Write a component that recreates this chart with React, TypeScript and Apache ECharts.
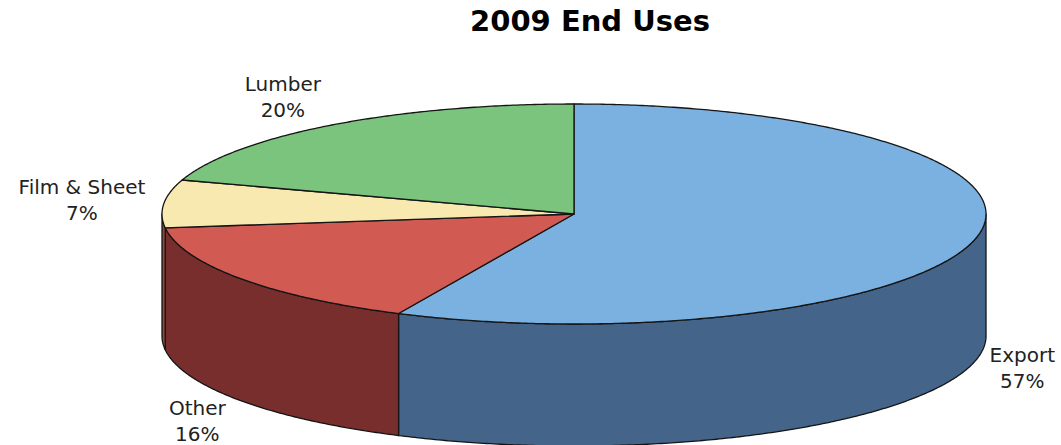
import React, { useEffect, useRef } from 'react';
import * as echarts from 'echarts';

// ---- data ----
const categories: string[] = ['Export', 'Other', 'Film & Sheet', 'Lumber'];
const shares: number[] = [57, 16, 7, 20];
const titleText = '2009 End Uses';

// ---- styles ----
const TOP_COLORS = ['#7bb1e0', '#d15a53', '#f8e9b1', '#7bc47e'];
const SIDE_COLORS = ['#44648a', '#782e2c', '#8a4a3c', '#4f8552'];
const STROKE = '#151515';
const FONT_FAMILY = '"DejaVu Sans", Verdana, sans-serif';
const FONT_SIZE = 20;
const LINE_H = 26;

// ---- layout ----
const W = 1061;
const CX = 574;
const CY = 214;
const RX = 412;
const RY = 110;
const DEPTH = 122;

function pt(theta: number, dy = 0): number[] {
  const r = (theta * Math.PI) / 180;
  return [CX + RX * Math.sin(r), CY - RY * Math.cos(r) + dy];
}

function arc(a: number, b: number, dy: number): number[][] {
  const pts: number[][] = [];
  const n = Math.max(2, Math.ceil(Math.abs(b - a) / 0.5));
  for (let i = 0; i <= n; i++) pts.push(pt(a + ((b - a) * i) / n, dy));
  return pts;
}

function angles(): { start: number; end: number }[] {
  const total = shares.reduce((s, v) => s + v, 0);
  let acc = 0;
  return shares.map((v) => {
    const start = (acc / total) * 360;
    acc += v;
    return { start, end: (acc / total) * 360 };
  });
}

let measureCtx: CanvasRenderingContext2D | null = null;
function textWidth(t: string): number {
  if (!measureCtx) {
    const c = document.createElement('canvas');
    measureCtx = c.getContext('2d');
  }
  if (!measureCtx) return t.length * FONT_SIZE * 0.6;
  measureCtx.font = `${FONT_SIZE}px ${FONT_FAMILY}`;
  return measureCtx.measureText(t).width;
}

export default function App() {
  const ref = useRef<HTMLDivElement>(null);

  useEffect(() => {
    document.body.style.margin = '0';
    if (!ref.current) return;
    const chart = echarts.init(ref.current, null, { renderer: 'svg' });
    const ang = angles();
    const data = shares.map((v, i) => ({ name: categories[i], value: v }));

    const sideRender = (params: any) => {
      const i = params.dataIndex;
      const { start, end } = ang[i];
      const s = Math.max(start, 90);
      const e = Math.min(end, 270);
      if (e <= s) return { type: 'group', children: [] };
      const points = arc(s, e, 0).concat(arc(e, s, DEPTH));
      return {
        type: 'polygon',
        shape: { points },
        style: { fill: SIDE_COLORS[i], stroke: STROKE, lineWidth: 1.3, lineJoin: 'round' },
      };
    };

    const topRender = (params: any, api: any) => {
      const i = params.dataIndex;
      const { start, end } = ang[i];
      const points = [[CX, CY]].concat(arc(start, end, 0));
      const mid = ((start + end) / 2) * (Math.PI / 180);
      const sn = Math.sin(mid);
      const cs = Math.cos(mid);
      const pct = Math.round(api.value(0)) + '%';
      const name = categories[i];
      const hw = Math.max(textWidth(name), textWidth(pct)) / 2;
      const hh = LINE_H;
      let lx = CX + RX * 1.045 * sn + Math.sign(sn) * hw;
      lx = Math.min(Math.max(lx, hw + 4), W - hw - 6);
      const ly = CY - RY * 1.08 * cs - cs * hh + (cs < 0 ? DEPTH : 0);
      return {
        type: 'group',
        children: [
          {
            type: 'polygon',
            shape: { points },
            style: { fill: TOP_COLORS[i], stroke: STROKE, lineWidth: 1.3, lineJoin: 'round' },
          },
          {
            type: 'text',
            x: lx,
            y: ly,
            style: {
              text: name + '\n' + pct,
              fill: '#222',
              fontSize: FONT_SIZE,
              fontFamily: FONT_FAMILY,
              lineHeight: LINE_H,
              align: 'center',
              verticalAlign: 'middle',
            },
          },
        ],
      };
    };

    chart.setOption({
      animation: false,
      graphic: [
        {
          type: 'text',
          x: 590,
          y: 21,
          style: {
            text: titleText,
            fill: '#000',
            font: `bold 29px ${FONT_FAMILY}`,
            align: 'center',
            verticalAlign: 'middle',
          },
        },
      ],
      series: [
        {
          type: 'custom',
          coordinateSystem: 'none',
          renderItem: sideRender,
          data,
          z: 1,
          silent: true,
        },
        {
          type: 'custom',
          coordinateSystem: 'none',
          renderItem: topRender,
          data,
          z: 2,
          silent: true,
        },
      ],
    });
    return () => chart.dispose();
  }, []);

  return <div ref={ref} style={{ width: 1061, height: 445 }} />;
}
